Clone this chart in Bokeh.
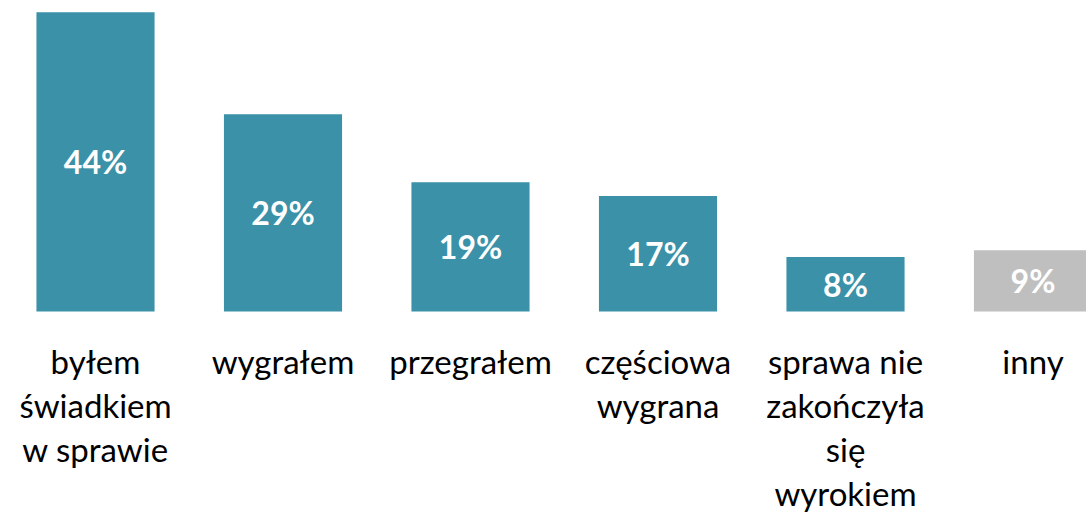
from bokeh.plotting import figure
from bokeh.models import ColumnDataSource, Range1d
from bokeh.core.properties import value
from bokeh.embed import file_html
from bokeh.resources import INLINE

categories = ["byłem\nświadkiem\nw sprawie", "wygrałem", "przegrałem",
              "częściowa\nwygrana", "sprawa nie\nzakończyła\nsię\nwyrokiem", "inny"]
values = [44, 29, 19, 17, 8, 9]
value_labels = ["44%", "29%", "19%", "17%", "8%", "9%"]
colors = ["#3A91A8", "#3A91A8", "#3A91A8", "#3A91A8", "#3A91A8", "#BFBFBF"]

xs = list(range(len(categories)))
src = ColumnDataSource(dict(x=xs, top=values, mid=[v / 2 for v in values],
                            lab=value_labels, cat=categories, color=colors,
                            zero=[0] * len(values)))

p = figure(width=1086, height=515, output_backend="svg", toolbar_location=None,
           x_range=Range1d(-0.5067, 5.2853), y_range=Range1d(-30.0, 45.74),
           min_border=0, outline_line_color=None)
p.axis.visible = False
p.grid.visible = False

p.vbar(x="x", top="top", bottom=0, width=0.63, color="color", line_color=None, source=src)
p.text(x="x", y="mid", text="lab", source=src, text_align="center", text_baseline="middle",
       text_color="white", text_font=value("Lato"), text_font_style="bold",
       text_font_size="32px")
p.text(x="x", y="zero", text="cat", source=src, text_align="center", text_baseline="top",
       y_offset=29, text_color="#000000", text_font=value("Lato"), text_font_size="33px",
       text_line_height=1.1)

open("out.html", "w").write(file_html(p, INLINE))
